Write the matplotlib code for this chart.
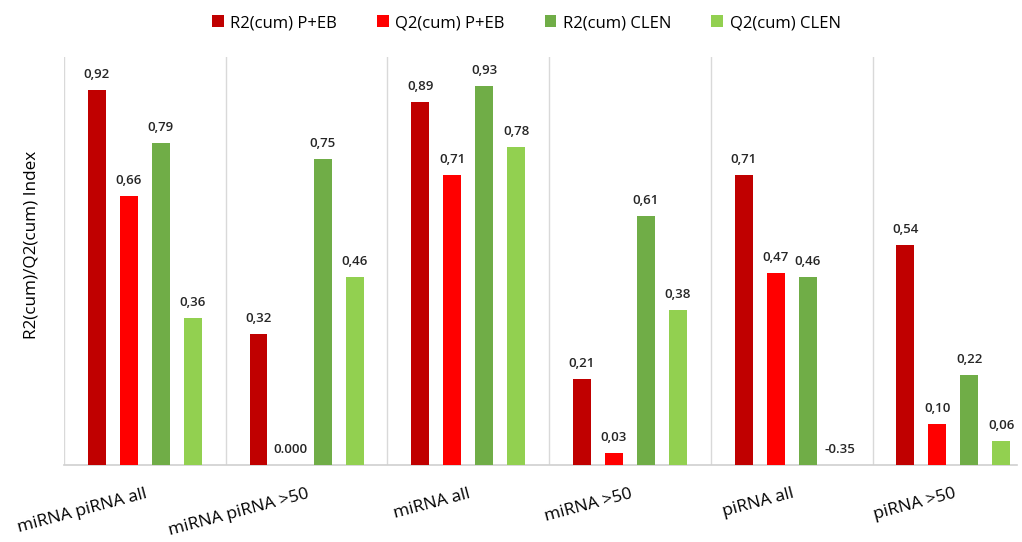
import numpy as np
import matplotlib
matplotlib.use("Agg")
import matplotlib.pyplot as plt

plt.rcParams['font.family'] = ['Open Sans', 'DejaVu Sans']

groups = ['miRNA piRNA all', 'miRNA piRNA >50', 'miRNA all',
          'miRNA >50', 'piRNA all', 'piRNA >50']
series = ['R2(cum) P+EB', 'Q2(cum) P+EB', 'R2(cum) CLEN', 'Q2(cum) CLEN']
r2_peb = [0.92, 0.32, 0.89, 0.21, 0.71, 0.54]
q2_peb = [0.66, 0.000, 0.71, 0.03, 0.47, 0.10]
r2_clen = [0.79, 0.75, 0.93, 0.61, 0.46, 0.22]
q2_clen = [0.36, 0.46, 0.78, 0.38, -0.35, 0.06]
colors = ['#C00000', '#FF0000', '#70AD47', '#92D050']

# labels as printed on the chart
labels = [
    ['0,92', '0,32', '0,89', '0,21', '0,71', '0,54'],
    ['0,66', '0.000', '0,71', '0,03', '0,47', '0,10'],
    ['0,79', '0,75', '0,93', '0,61', '0,46', '0,22'],
    ['0,36', '0,46', '0,78', '0,38', '-0.35', '0,06'],
]

values = [r2_peb, q2_peb, r2_clen, q2_clen]

fig = plt.figure(figsize=(10.22, 5.42), dpi=100)
ax = fig.add_axes([64 / 1022, 77 / 542, (1017 - 64) / 1022, 408 / 542])

x = np.arange(len(groups)) + 0.5
pitch = 0.198
width = 0.111

for k, (vals, col, name) in enumerate(zip(values, colors, series)):
    pos = x + (k - 1.5) * pitch
    ax.bar(pos, vals, width=width, color=col, label=name, zorder=3)
    for p, v, lab in zip(pos, vals, labels[k]):
        yy = v + 0.022 if v > 0 else 0.022
        ax.text(p, yy, lab, ha='center', va='bottom', fontsize=9.5,
                fontweight='semibold', color='#262626')

ax.set_ylim(0, 1.0)
ax.set_xlim(0, (1017 - 64) / 161.7)

for b in range(len(groups)):
    ax.axvline(b, color='#d9d9d9', lw=1, zorder=1)

for s in ['top', 'right', 'left']:
    ax.spines[s].set_visible(False)
ax.spines['bottom'].set_color('#d0d0d0')
ax.spines['bottom'].set_linewidth(1.2)

ax.set_yticks([])
ax.set_xticks(x)
ax.set_xticklabels(groups, rotation=15, ha='right', va='top',
                   rotation_mode='anchor', fontsize=12.5, color='#000000')
ax.tick_params(axis='x', length=0, pad=15)
ax.set_ylabel('R2(cum)/Q2(cum) Index', fontsize=12.3)
ax.yaxis.set_label_coords(-0.026, 0.54)

fig.legend(loc='upper center', bbox_to_anchor=(0.515, 1.0), ncol=4,
           frameon=False, fontsize=12, handlelength=0.7, handleheight=0.7,
           handletextpad=0.4, columnspacing=2.4)

fig.savefig('out.png', dpi=100)
